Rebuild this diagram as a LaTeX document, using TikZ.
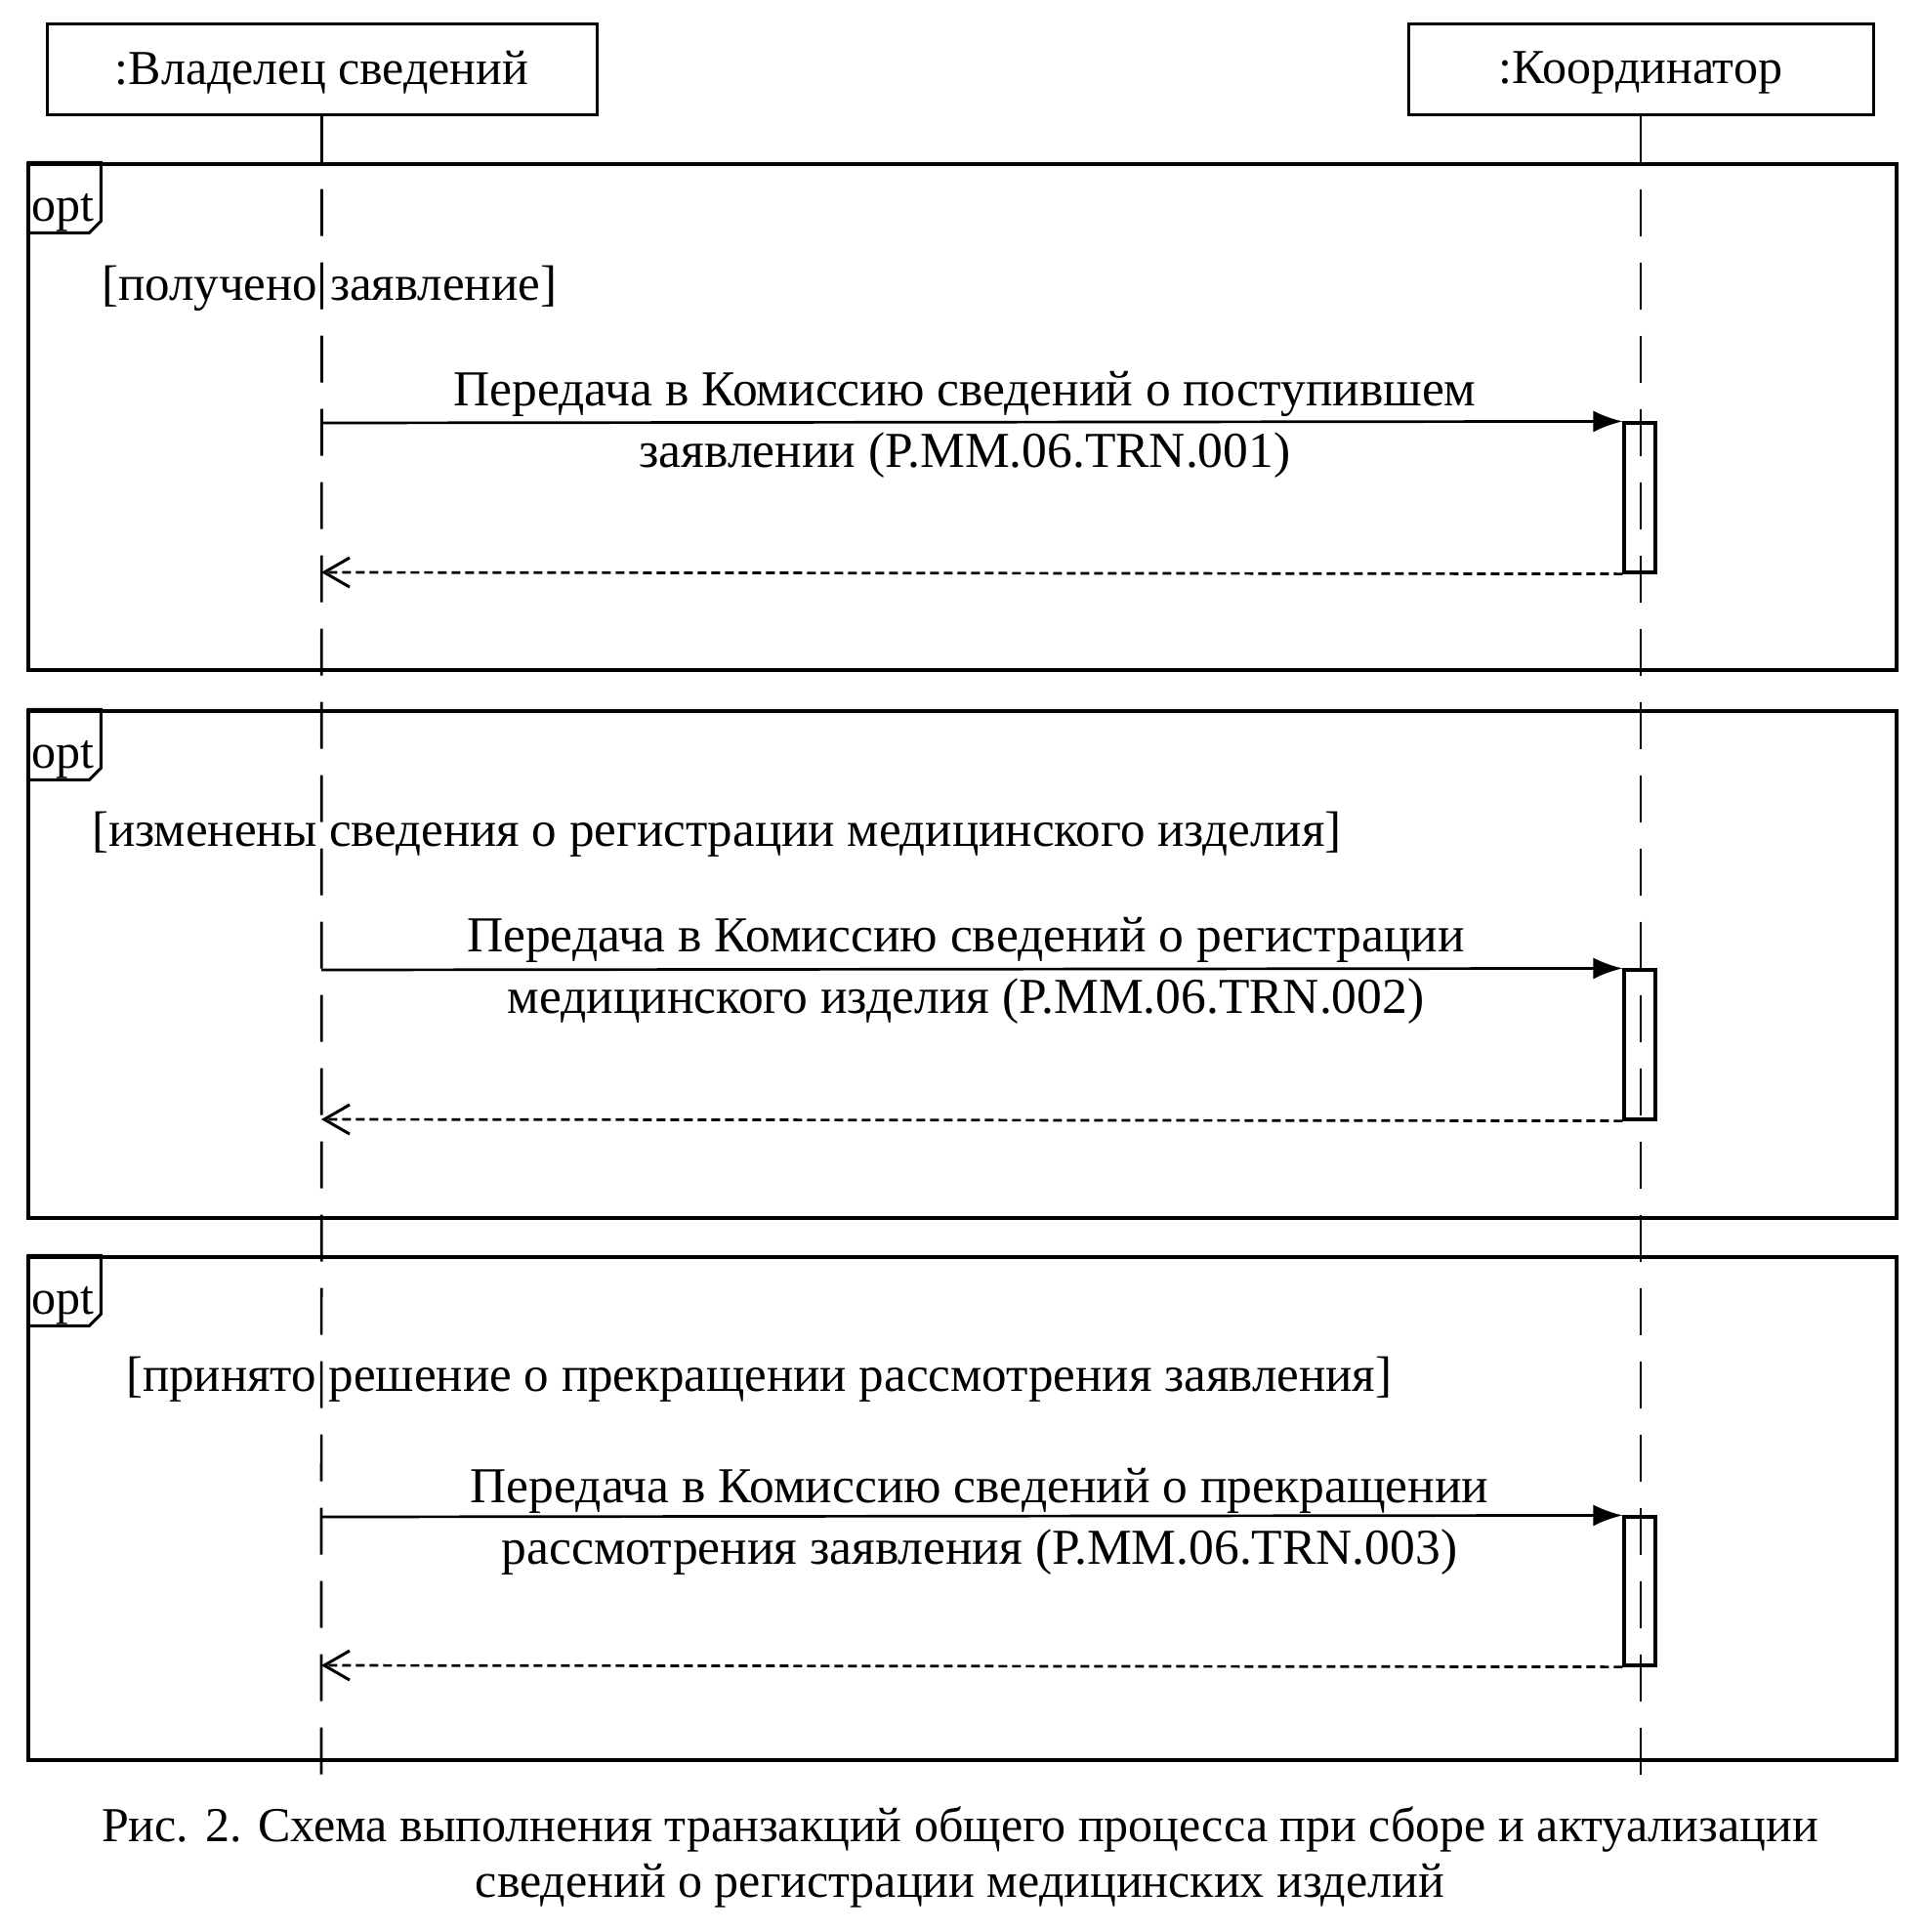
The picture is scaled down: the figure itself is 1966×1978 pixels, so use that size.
\documentclass[tikz,border=0pt]{standalone}
\usepackage{fontspec}
\setmainfont{Liberation Serif}
\usetikzlibrary{arrows.meta}
\begin{document}
\begin{tikzpicture}[x=1pt,y=-1pt,
  every node/.style={font=\fontsize{50}{62}\selectfont,inner sep=0pt},
  head/.style={draw,line width=3pt,minimum height=93pt},
  lifeline/.style={line width=2.7pt,dash pattern=on 48pt off 27pt},
  fragment/.style={draw,line width=3.3pt,minimum width=1913pt},
  tab/.style={line width=3pt},
  act/.style={draw,line width=3.2pt,minimum width=32pt},
  call/.style={line width=2.7pt,-{Latex[length=30pt,width=22pt]}},
  reply/.style={line width=2.7pt,dash pattern=on 9pt off 5pt,-{Straight Barb[length=26pt,width=30pt,line width=3pt]}},
  msglabel/.style={align=center,font=\fontsize{51.5}{63}\selectfont},
  guard/.style={anchor=west,font=\fontsize{51}{63}\selectfont},
  caption/.style={font=\fontsize{50}{58}\selectfont}
]
\useasboundingbox (0,0) rectangle (1966,1978);

% lifeline heads
\node[head,minimum width=563pt] (own) at (329.5,70.5) {};
\node[head,minimum width=476pt] (coord) at (1680,70.5) {};
\node (ownlbl) at ([yshift=-4pt]own.center) {:Владелец сведений};
\node (coordlbl) at ([yshift=-4pt]coord.center) {:Координатор};

% lifelines
\coordinate (ownend) at (329,1825);
\coordinate (coordend) at (1680,1825);
\draw[lifeline] (own.south) -- (ownend);
\draw[lifeline] (coord.south) -- (coordend);

% fragments
\node[fragment,minimum height=518pt] (f1) at (985.5,427) {};
\node[fragment,minimum height=519pt] (f2) at (985.5,987.5) {};
\node[fragment,minimum height=515pt] (f3) at (985.5,1544.5) {};

\foreach \f in {f1,f2,f3}{
  \draw[tab] (\f.north west) -- ++(76,0) -- ++(0,60) -- ++(-12,12) -- ++(-64,0);
  \node[anchor=west] (\f-opt) at ([shift={(5,51)}]\f.north west) {opt};
}

% guards
\node[guard] (g1) at (104,295) {[получено заявление]};
\node[guard] (g2) at (94,854) {[изменены сведения о регистрации медицинского изделия]};
\node[guard] (g3) at (129,1412) {[принято решение о прекращении рассмотрения заявления]};

% activations
\node[act,minimum height=153pt] (act1) at (1679,509.5) {};
\node[act,minimum height=153pt] (act2) at (1679,1069.5) {};
\node[act,minimum height=152pt] (act3) at (1679,1629) {};

% messages
\coordinate (s1) at (329,433);
\coordinate (r1) at (329,586);
\coordinate (s2) at (329,993);
\coordinate (r2) at (329,1146);
\coordinate (s3) at (329,1553);
\coordinate (r3) at (329,1705);

\draw[call] (s1) -- (act1.north west);
\draw[reply] (act1.south west) -- (r1);
\draw[call] (s2) -- (act2.north west);
\draw[reply] (act2.south west) -- (r2);
\draw[call] (s3) -- (act3.north west);
\draw[reply] (act3.south west) -- (r3);

\node[msglabel] (m1) at (988,435) {Передача в Комиссию сведений о поступившем\\заявлении (P.MM.06.TRN.001)};
\node[msglabel] (m2) at (989,994) {Передача в Комиссию сведений о регистрации\\медицинского изделия (P.MM.06.TRN.002)};
\node[msglabel] (m3) at (1003,1558) {Передача в Комиссию сведений о прекращении\\рассмотрения заявления (P.MM.06.TRN.003)};

% caption
\node[caption] (cap1) at (983,1873) {Рис. 2. Схема выполнения транзакций общего процесса при сборе и актуализации};
\node[caption] (cap2) at (983,1931) {сведений о регистрации медицинских изделий};
\end{tikzpicture}
\end{document}
